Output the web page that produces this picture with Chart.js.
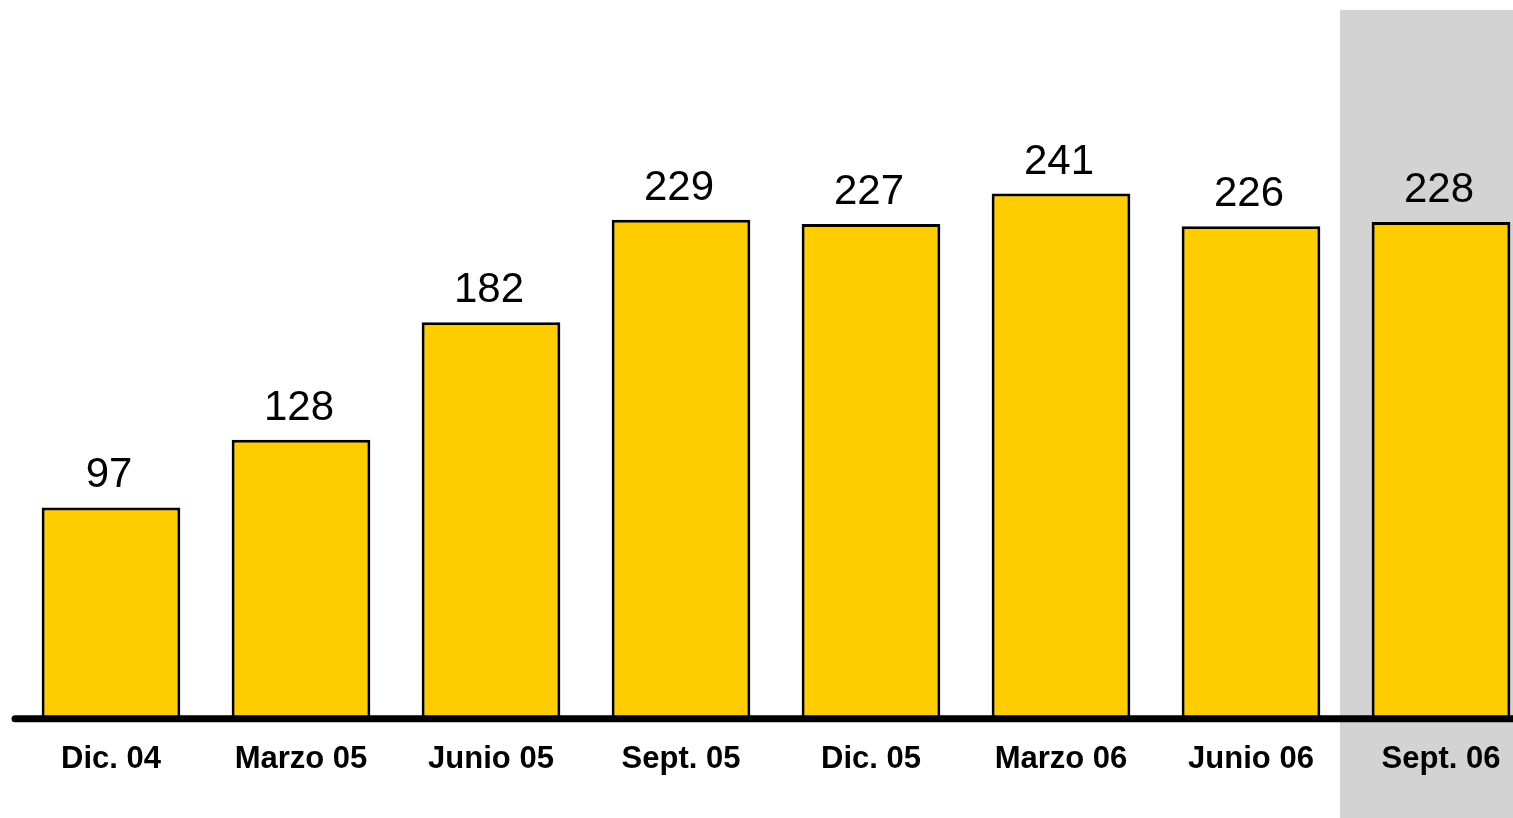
<!DOCTYPE html>
<html>
<head>
<meta charset="utf-8">
<script src="https://cdn.jsdelivr.net/npm/chart.js@4/dist/chart.umd.min.js"></script>
<style>
html,body{margin:0;padding:0;overflow:hidden;background:#fff;width:1513px;height:818px;}
canvas{display:block;}
</style>
</head>
<body>
<canvas id="c" width="1540" height="818" style="width:1540px;height:818px"></canvas>
<script>
const categories = ["Dic. 04","Marzo 05","Junio 05","Sept. 05","Dic. 05","Marzo 06","Junio 06","Sept. 06"];
const values = [97,128,182,229,227,241,226,228];
const highlightIndex = 7;

const FONT = "'Liberation Sans', Arial, Helvetica, sans-serif";

const bgPlugin = {
  id: 'bg',
  beforeDraw(chart) {
    const ctx = chart.ctx, x = chart.scales.x;
    const left = (x.getPixelForValue(highlightIndex - 1) + x.getPixelForValue(highlightIndex)) / 2 - 6;
    ctx.save();
    ctx.fillStyle = '#D3D3D3';
    ctx.fillRect(left, 10, chart.width - left, chart.height - 10);
    ctx.restore();
  }
};

const overlayPlugin = {
  id: 'overlay',
  afterDatasetsDraw(chart) {
    const ctx = chart.ctx, y = chart.scales.y;
    const y0 = y.getPixelForValue(0);
    ctx.save();
    ctx.strokeStyle = '#000';
    ctx.lineWidth = 7;
    ctx.lineCap = 'round';
    ctx.beginPath();
    ctx.moveTo(15, y0);
    ctx.lineTo(chart.width + 10, y0);
    ctx.stroke();
    ctx.fillStyle = '#000';
    ctx.font = '42px ' + FONT;
    ctx.textAlign = 'center';
    ctx.textBaseline = 'alphabetic';
    const meta = chart.getDatasetMeta(0);
    meta.data.forEach((bar, i) => {
      ctx.fillText(String(values[i]), bar.x - 2, bar.y - 20);
    });
    ctx.restore();
  }
};

new Chart(document.getElementById('c'), {
  type: 'bar',
  data: {
    labels: categories,
    datasets: [{
      data: values,
      backgroundColor: '#FFCC00',
      borderColor: '#000',
      borderWidth: 3,
      barPercentage: 0.73,
      categoryPercentage: 1
    }]
  },
  options: {
    responsive: false,
    animation: false,
    layout: { padding: { left: 16, right: 4, top: 65, bottom: 26 } },
    plugins: { legend: { display: false }, tooltip: { enabled: false } },
    scales: {
      x: {
        grid: { display: false },
        border: { display: false },
        ticks: { color: '#000', font: { family: FONT, size: 31, weight: 'bold' }, padding: 14, maxRotation: 0, autoSkip: false }
      },
      y: { display: false, min: 0, max: 300 }
    }
  },
  plugins: [bgPlugin, overlayPlugin]
});
</script>
</body>
</html>
